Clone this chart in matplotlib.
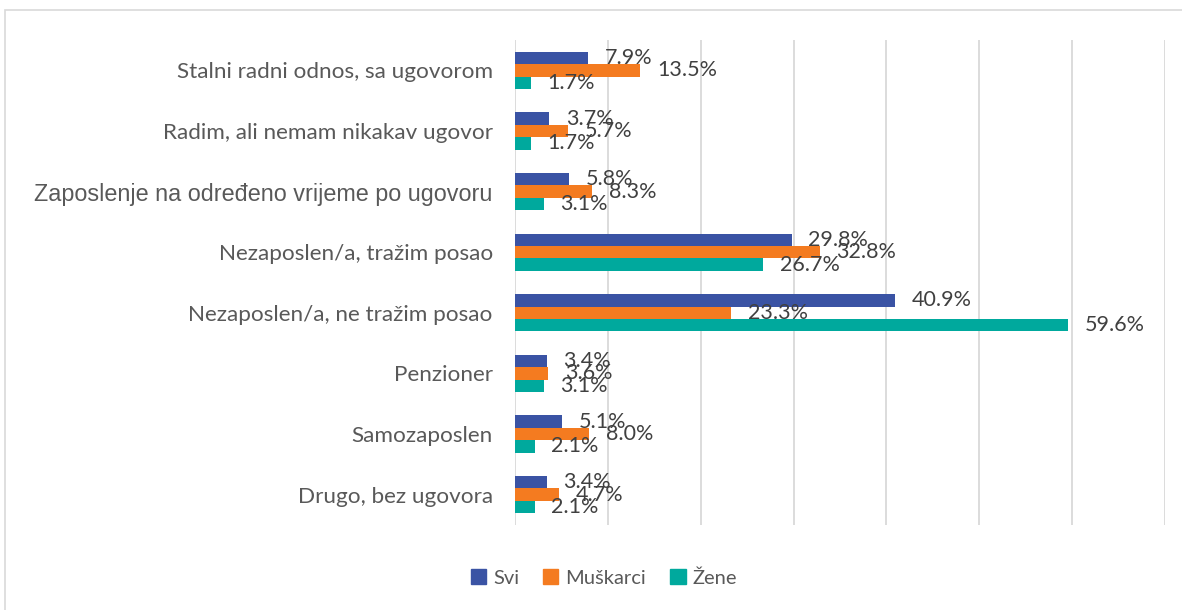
import matplotlib
matplotlib.use("Agg")
import matplotlib.pyplot as plt
import numpy as np
from matplotlib.patches import Rectangle

categories = [
    "Stalni radni odnos, sa ugovorom",
    "Radim, ali nemam nikakav ugovor",
    "Zaposlenje na određeno vrijeme po ugovoru",
    "Nezaposlen/a, tražim posao",
    "Nezaposlen/a, ne tražim posao",
    "Penzioner",
    "Samozaposlen",
    "Drugo, bez ugovora",
]
series_names = ["Svi", "Muškarci", "Žene"]
svi = [7.9, 3.7, 5.8, 29.8, 40.9, 3.4, 5.1, 3.4]
muskarci = [13.5, 5.7, 8.3, 32.8, 23.3, 3.6, 8.0, 4.7]
zene = [1.7, 1.7, 3.1, 26.7, 59.6, 3.1, 2.1, 2.1]
colors = ["#3A53A4", "#F47B20", "#00A99D"]

W, H = 1182, 610
fig = plt.figure(figsize=(W / 100, H / 100), dpi=100)
fig.patch.set_facecolor("white")

# outer chart border
fig.add_artist(Rectangle((5 / W, -0.01), 1.2, 1 - 10 / H + 0.01, transform=fig.transFigure,
                         fill=False, edgecolor="#D9D9D9", linewidth=1.2))

ax = fig.add_axes([515 / W, 1 - 525 / H, (1165 - 515) / W, (525 - 40) / H])
y = np.arange(len(categories))
h = 0.205
data = [svi, muskarci, zene]
txtcol = "#404040"
for i, (vals, c) in enumerate(zip(data, colors)):
    pos = y + (i - 1) * h
    ax.barh(pos, vals, height=h, color=c, zorder=3, label=series_names[i])
    for p, v in zip(pos, vals):
        ax.annotate(f"{v:.1f}%", (v, p), xytext=(12, 0), textcoords="offset points",
                    ha="left", va="center", fontsize=15.5, color=txtcol,
                    family=["Lato", "DejaVu Sans"], zorder=4)

ax.set_xlim(0, 70)
ax.set_ylim(len(categories) - 0.5, -0.5)
ax.set_xticks(np.arange(0, 71, 10))
ax.set_xticklabels([])
ax.tick_params(axis="both", length=0)
ax.grid(axis="x", color="#D9D9D9", linewidth=1.3, zorder=0)
for s in ax.spines.values():
    s.set_visible(False)
ax.set_yticks(y)
ax.set_yticklabels(categories)
for i, lab in enumerate(ax.get_yticklabels()):
    lab.set_color("#595959")
    if i == 2:
        lab.set_family(["Liberation Sans", "DejaVu Sans"])
        lab.set_fontsize(16.8)
    else:
        lab.set_family(["Lato", "DejaVu Sans"])
        lab.set_fontsize(16.2)
ax.tick_params(axis="y", pad=16)

handles = [Rectangle((0, 0), 1, 1, color=c) for c in colors]
leg = fig.legend(handles, series_names, loc="center", bbox_to_anchor=(604 / W, 1 - 578 / H),
                 ncol=3, frameon=False, handlelength=0.75, handleheight=0.75,
                 handletextpad=0.35, columnspacing=1.2,
                 prop={"family": ["Lato", "DejaVu Sans"], "size": 14.5})
for t in leg.get_texts():
    t.set_color("#595959")

fig.savefig("out.png", dpi=100)
